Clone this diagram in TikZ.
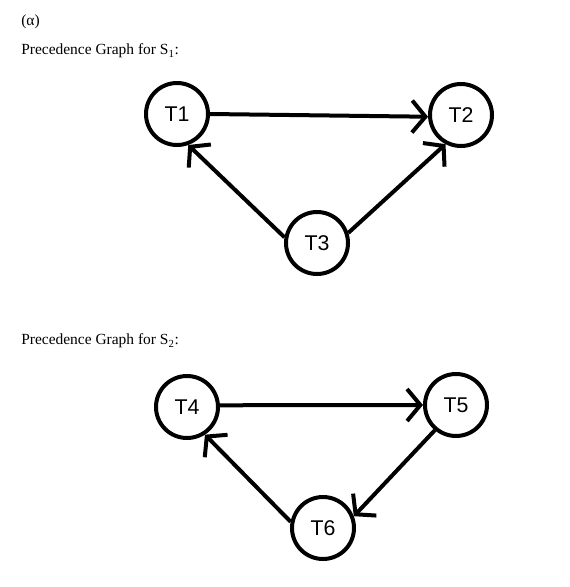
\documentclass[tikz,border=0pt]{standalone}
\usepackage{fontspec}
\setmainfont{Liberation Serif}
\newfontfamily\labelfont{Liberation Sans}
\usetikzlibrary{arrows.meta}

\tikzset{
  task/.style={draw, circle, line width=3pt, minimum size=46.5pt, inner sep=0pt,
    font=\labelfont\fontsize{16}{18}\selectfont},
  caption/.style={anchor=west, inner sep=0pt, font=\fontsize{11.6}{13}\selectfont},
  edge/.style={line width=3pt, -{Straight Barb[length=10pt, width=24pt]}}
}

\begin{document}
\begin{tikzpicture}[x=0.75pt, y=-0.75pt]
    \useasboundingbox (0,0) rectangle (570,587);

    % テキストを描画
    \node[caption] (alpha) at (21, 22) {(α)};
    \node[caption] (cap1) at (21, 51) {Precedence Graph for S\textsubscript{1}:};
    \node[caption] (cap2) at (21, 341) {Precedence Graph for S\textsubscript{2}:};

    % ノードを描画
    \node[task] (T1) at (177, 114) {T1};
    \node[task] (T2) at (461, 115) {T2};
    \node[task] (T3) at (317, 243) {T3};
    \node[task] (T4) at (187, 407) {T4};
    \node[task] (T5) at (456, 405) {T5};
    \node[task] (T6) at (323, 528) {T6};

    % エッジを描画
    \draw[edge] (T1.0) -- (T2.183);
    \draw[edge] (T3.170) -- (T1.290);
    \draw[edge] (T3.18) -- (T2.242);
    \draw[edge] (T4.3) -- (T5.180);
    \draw[edge] (T5.230) -- (T6.21);
    \draw[edge] (T6.169) -- (T4.303);
\end{tikzpicture}
\end{document}
